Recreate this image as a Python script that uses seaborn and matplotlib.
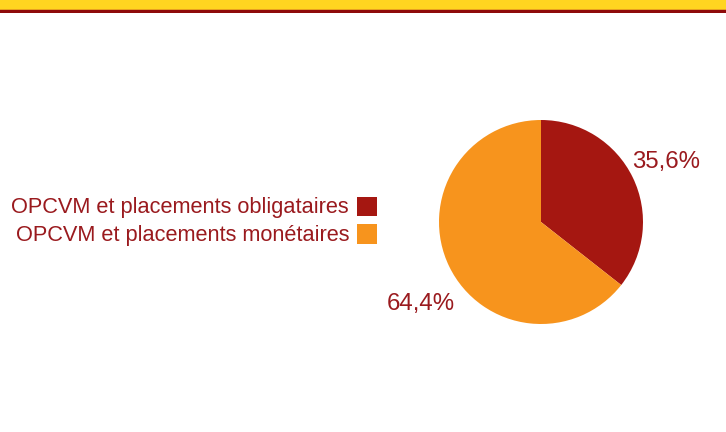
import matplotlib
matplotlib.use("Agg")
import matplotlib.pyplot as plt
from matplotlib.patches import Rectangle
import seaborn as sns

# Répartition des placements
categories = ["OPCVM et placements obligataires", "OPCVM et placements monétaires"]
shares = [35.6, 64.4]
share_labels = ["35,6%", "64,4%"]

RED = "#A51711"
ORANGE = "#F7941D"
TEXT = "#9A1A1E"
colors = [RED, ORANGE]

sns.set_theme(style="white")
plt.rcParams["font.family"] = ["Liberation Sans", "DejaVu Sans"]

W, H = 726, 432
fig = plt.figure(figsize=(W / 100, H / 100), dpi=100)
fig.patch.set_facecolor("white")

def fx(px):
    return px / W

def fy(py):
    return 1 - py / H

# Bandeau supérieur
fig.patches.append(Rectangle((0, fy(9)), 1, 9 / H, transform=fig.transFigure,
                             facecolor="#FFD520", edgecolor="none"))
fig.patches.append(Rectangle((0, fy(10)), 1, 1 / H, transform=fig.transFigure,
                             facecolor="#E8A020", edgecolor="none"))
fig.patches.append(Rectangle((0, fy(12.5)), 1, 2.5 / H, transform=fig.transFigure,
                             facecolor="#8E0A0A", edgecolor="none"))

# Camembert
cx, cy, r = 541, 222, 102
ax = fig.add_axes([fx(cx - r), fy(cy + r), 2 * r / W, 2 * r / H])
ax.pie(shares, colors=colors, startangle=90, counterclock=False, radius=1,
       wedgeprops=dict(linewidth=0))
ax.set_xlim(-1, 1)
ax.set_ylim(-1, 1)
ax.set_aspect("auto")
ax.axis("off")

# Étiquettes de pourcentage
fig.text(fx(632), fy(168), share_labels[0], color=TEXT, fontsize=17.3,
         ha="left", va="baseline")
fig.text(fx(387), fy(310), share_labels[1], color=TEXT, fontsize=17.3,
         ha="left", va="baseline")

# Légende
rows_y = [206, 234]
baselines = [213, 241]
for label, color, y, base in zip(categories, colors, rows_y, baselines):
    fig.text(fx(349), fy(base), label, color=TEXT, fontsize=15.7,
             ha="right", va="baseline")
    fig.patches.append(Rectangle((fx(357), fy(y + 10)), 20 / W, 19.5 / H,
                                 transform=fig.transFigure,
                                 facecolor=color, edgecolor="none"))

fig.savefig("out.png", dpi=100, facecolor="white")
